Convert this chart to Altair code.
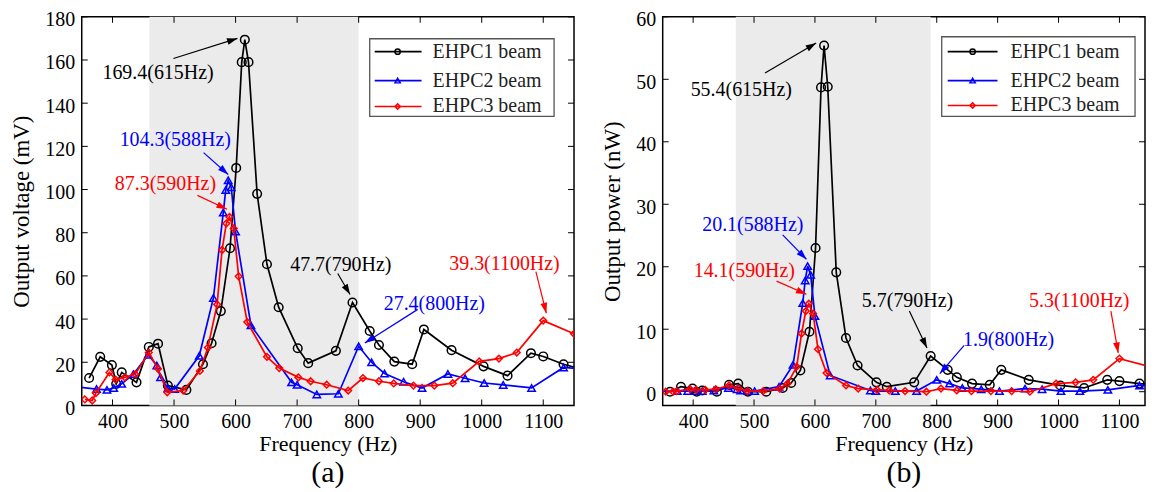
import math
import altair as alt
import pandas as pd

FONT = "Liberation Serif"

series_names = ["EHPC1 beam", "EHPC2 beam", "EHPC3 beam"]
series_colors = ["#000000", "#0000ff", "#ff0000"]
series_shapes = ["circle", "triangle-up", "diamond"]
marker_sizes = [75, 55, 45]

# EHPC1 beam
f1 = [362, 380, 399, 406, 415, 439, 459, 474, 490, 520, 547, 561, 576, 591, 601, 610, 615, 621, 635, 651,
      670, 701, 718, 763, 790, 818, 833, 858, 887, 906, 951, 1003, 1042, 1080, 1100, 1133, 1160]
v1 = [12.7, 22.5, 18.7, 10, 15.3, 10.7, 27.1, 28.6, 9.2, 7.2, 19.1, 28.8, 43.7, 72.8, 110, 159, 169.4, 159, 98, 65.4,
      45.5, 26.5, 19.6, 25.3, 47.7, 34.5, 28, 20.3, 19.1, 35.2, 25.6, 18.1, 13.8, 24.2, 22.7, 19.1, 17]
p1 = [0, 0.8, 0.5, 0, 0.2, 0, 1.1, 1.3, 0, 0, 0.6, 1.4, 3.4, 9.6, 23.0, 48.7, 55.4, 48.8, 19.1, 8.6,
      4.2, 1.5, 0.8, 1.5, 5.7, 3.5, 2.3, 1.3, 1.1, 3.5, 1.9, 1.0, 0.6, 1.9, 1.7, 1.3, 1.1]

# EHPC2 beam
f2 = [340, 374, 391, 402, 415, 434, 458, 472, 478, 490, 501, 541, 564, 580, 584, 588, 593, 600, 625, 691,
      700, 732, 767, 800, 821, 842, 873, 903, 945, 973, 1004, 1035, 1081, 1133, 1160]
v2 = [8.6, 7.6, 7.2, 8.1, 10, 14.5, 23.5, 18.5, 13, 8, 7.6, 23, 49.8, 89.3, 99.8, 104.3, 101, 80.5, 37.1, 10.7,
      9.6, 5.1, 5.4, 27.4, 20, 14.8, 11, 8.1, 14.6, 12.6, 10.4, 9.5, 8.1, 17.6, 17]
p2 = [0.1, 0.1, 0.1, 0.1, 0.1, 0.2, 0.6, 0.4, 0.2, 0.1, 0.1, 0.8, 4.3, 14.2, 17.8, 20.1, 18.7, 12.1, 2.6, 0.2,
      0.1, 0.1, 0.1, 1.9, 1.3, 0.6, 0.4, 0.1, 0.5, 0.4, 0.1, 0.1, 0.3, 1.0, 1.0]

# EHPC3 beam
f3 = [355, 367, 373, 395, 405, 420, 437, 459, 474, 489, 515, 542, 555, 570, 578, 585, 590, 597, 605, 619,
      651, 671, 702, 722, 748, 783, 807, 833, 857, 889, 923, 953, 996, 1028, 1057, 1100, 1150]
v3 = [2.8, 2.3, 5.7, 15.3, 12, 13, 14.5, 24.5, 17, 6.1, 6.9, 16, 26.8, 46.8, 72, 84.3, 87.3, 82, 59.8, 38.6,
      22.5, 17.3, 13, 11.2, 9.6, 6.9, 12.7, 11.2, 10.2, 9.2, 9.2, 10.3, 20.4, 21.7, 24.5, 39.3, 33.2]
p3 = [0, 0, 0.1, 0.4, 0.3, 0.3, 0.4, 1.0, 0.5, 0.1, 0.1, 0.5, 1.3, 4.0, 9.3, 12.9, 14.1, 12.5, 6.8, 3.0,
      1.0, 0.5, 0.3, 0.2, 0.1, 0, 0.5, 0.2, 0.1, 0.1, 0.1, 0, 1.3, 1.5, 1.9, 5.3, 4.0]

x_ticks = [400, 500, 600, 700, 800, 900, 1000, 1100]
voltage_ticks = [0, 20, 40, 60, 80, 100, 120, 140, 160, 180]
power_ticks = [0, 10, 20, 30, 40, 50, 60]

shade_a = [460, 800]
shade_b = [470, 790]

# annotations (a)
ann_a_text = ["169.4(615Hz)", "104.3(588Hz)", "87.3(590Hz)", "47.7(790Hz)", "27.4(800Hz)", "39.3(1100Hz)"]
ann_a_color = ["#000000", "#0000ff", "#ff0000", "#000000", "#0000ff", "#ff0000"]
ann_a_tx = [474, 502, 486, 771, 923, 1037]
ann_a_ty = [153.8, 123, 102.4, 65.2, 46.8, 65.7]
ann_a_x0 = [499, 548, 538, 766, 896, 1088]
ann_a_y0 = [160.7, 117.1, 97.3, 61.1, 44.5, 62]
ann_a_x1 = [603, 588, 586, 786, 810, 1105]
ann_a_y1 = [170, 107, 90.9, 51.4, 28.9, 42.7]

# annotations (b)
ann_b_text = ["55.4(615Hz)", "20.1(588Hz)", "14.1(590Hz)", "5.7(790Hz)", "1.9(800Hz)", "5.3(1100Hz)"]
ann_b_color = ["#000000", "#0000ff", "#ff0000", "#000000", "#0000ff", "#ff0000"]
ann_b_tx = [479, 498, 484, 752, 918, 1034]
ann_b_ty = [48.3, 26.6, 19.3, 14.5, 8.3, 14.5]
ann_b_x0 = [518, 547, 537, 755, 845, 1086]
ann_b_y0 = [51, 25.1, 17.7, 12.9, 7.4, 12.9]
ann_b_x1 = [602, 586, 586, 784, 805, 1098]
ann_b_y1 = [55.8, 21.2, 15.6, 7.0, 2.9, 6.2]

ARROW_PATH = "M0,-1L0.65,1L-0.65,1Z"
ARROW_SIZE = 110


def panel(freqs, vals, xdom, ydom, W, H, yticks, ytitle, shade, ann, legend, caption):
    xs = alt.Scale(domain=xdom, nice=False, zero=False)
    ys = alt.Scale(domain=ydom, nice=False, zero=False)
    xax = alt.Axis(title="Frequency (Hz)", values=x_ticks, format="d", ticks=False, domain=False, grid=False,
                   labelFont=FONT, labelFontSize=20, labelColor="black", labelPadding=6,
                   labelOverlap=False, labelFlush=False,
                   titleFont=FONT, titleFontSize=22, titleFontWeight="normal", titleColor="black",
                   titlePadding=2)
    yax = alt.Axis(title=ytitle, values=yticks, format="d", ticks=False, domain=False, grid=False,
                   labelFont=FONT, labelFontSize=20, labelColor="black", labelPadding=7,
                   labelOverlap=False, labelFlush=False, labelOffset=3,
                   titleFont=FONT, titleFontSize=23, titleFontWeight="normal", titleColor="black",
                   titlePadding=11)
    X = lambda f: alt.X(f, scale=xs, axis=xax)
    Y = lambda f: alt.Y(f, scale=ys, axis=yax)

    layers = []
    # shaded band
    layers.append(alt.Chart(pd.DataFrame({"a": [shade[0]], "b": [shade[1]]})).mark_rect(
        color="#ebebeb").encode(x=X("a:Q"), x2="b:Q", y=alt.value(0), y2=alt.value(H)))
    # inward ticks
    xt = pd.DataFrame({"t": x_ticks})
    yt = pd.DataFrame({"t": yticks})
    layers.append(alt.Chart(xt).mark_rule(color="black", strokeWidth=1).encode(
        x=X("t:Q"), y=alt.value(H), y2=alt.value(H - 6)))
    layers.append(alt.Chart(xt).mark_rule(color="black", strokeWidth=1).encode(
        x=X("t:Q"), y=alt.value(0), y2=alt.value(6)))
    layers.append(alt.Chart(yt).mark_rule(color="black", strokeWidth=1).encode(
        y=Y("t:Q"), x=alt.value(0), x2=alt.value(6)))
    layers.append(alt.Chart(yt).mark_rule(color="black", strokeWidth=1).encode(
        y=Y("t:Q"), x=alt.value(W), x2=alt.value(W - 6)))
    # series
    for i in range(3):
        df = pd.DataFrame({"f": freqs[i], "v": vals[i]})
        layers.append(alt.Chart(df).mark_line(color=series_colors[i], strokeWidth=1.7, clip=True).encode(
            x=X("f:Q"), y=Y("v:Q")))
        layers.append(alt.Chart(df).mark_point(shape=series_shapes[i], filled=False, color=series_colors[i],
                                               size=marker_sizes[i], strokeWidth=1.5, opacity=1,
                                               clip=True).encode(x=X("f:Q"), y=Y("v:Q")))
    # annotations
    text, color, tx, ty, x0, y0, x1, y1 = ann
    sx = W / (xdom[1] - xdom[0])
    sy = H / (ydom[1] - ydom[0])
    hx, hy, ang = [], [], []
    back = math.sqrt(ARROW_SIZE) / 2
    for a0, b0, a1, b1 in zip(x0, y0, x1, y1):
        dxp = (a1 - a0) * sx
        dyp = -(b1 - b0) * sy
        L = math.hypot(dxp, dyp)
        ux, uy = dxp / L, dyp / L
        ang.append(math.degrees(math.atan2(ux, -uy)) % 360)
        hx.append(a1 - ux * back / sx)
        hy.append(b1 + uy * back / sy)
    adf = pd.DataFrame({"text": text, "c": color, "tx": tx, "ty": ty, "x0": x0, "y0": y0,
                        "x1": x1, "y1": y1, "hx": hx, "hy": hy, "ang": ang})
    layers.append(alt.Chart(adf).mark_rule(strokeWidth=1.2).encode(
        x=X("x0:Q"), y=Y("y0:Q"), x2="x1:Q", y2="y1:Q", color=alt.Color("c:N", scale=None)))
    layers.append(alt.Chart(adf).mark_point(shape=ARROW_PATH, filled=True, size=ARROW_SIZE, opacity=1,
                                            strokeWidth=0).encode(
        x=X("hx:Q"), y=Y("hy:Q"), angle=alt.Angle("ang:Q", scale=None),
        color=alt.Color("c:N", scale=None)))
    layers.append(alt.Chart(adf).mark_text(font=FONT, fontSize=20, align="center", baseline="middle").encode(
        x=X("tx:Q"), y=Y("ty:Q"), text="text:N", color=alt.Color("c:N", scale=None)))
    # legend
    bl, br, bt, bb, l0, l1, lm, ltx, rows = legend
    one = pd.DataFrame({"k": [0]})
    layers.append(alt.Chart(one).mark_rect(fill="white", stroke="#555555", strokeWidth=1.3).encode(
        x=alt.value(bl), x2=alt.value(br), y=alt.value(bt), y2=alt.value(bb)))
    for i in range(3):
        layers.append(alt.Chart(one).mark_rule(color=series_colors[i], strokeWidth=1.7).encode(
            x=alt.value(l0), x2=alt.value(l1), y=alt.value(rows[i])))
        layers.append(alt.Chart(one).mark_point(shape=series_shapes[i], filled=False, color=series_colors[i],
                                                size=28, strokeWidth=1.5, opacity=1).encode(
            x=alt.value(lm), y=alt.value(rows[i])))
        layers.append(alt.Chart(one).mark_text(font=FONT, fontSize=20, align="left", baseline="middle",
                                               color="#222222").encode(
            x=alt.value(ltx), y=alt.value(rows[i]), text=alt.value(series_names[i])))

    return alt.layer(*layers).properties(
        width=W, height=H,
        title=alt.TitleParams(caption, orient="bottom", font=FONT, fontSize=30, fontWeight="normal",
                              color="black", offset=4, anchor="middle", frame="group"))


H = 390
left = panel([f1, f2, f3], [v1, v2, v3], [350, 1150], [0, 180], 494, H, voltage_ticks,
             "Output voltage (mV)", shade_a,
             (ann_a_text, ann_a_color, ann_a_tx, ann_a_ty, ann_a_x0, ann_a_y0, ann_a_x1, ann_a_y1),
             (289, 474, 22, 100, 294, 341, 317, 352, [35, 64, 90]), "(a)")
right = panel([f1, f2, f3], [p1, p2, p3], [350, 1142], [-2.2, 60], 484, H, power_ticks,
              "Output power (nW)", shade_b,
              (ann_b_text, ann_b_color, ann_b_tx, ann_b_ty, ann_b_x0, ann_b_y0, ann_b_x1, ann_b_y1),
              (280, 474, 20, 100, 286, 336, 311, 349, [35, 64, 89]), "(b)")

chart = alt.hconcat(left, right, spacing=25).properties(
    padding={"left": 2, "top": 0, "right": 0, "bottom": 0}
).configure_view(stroke="black", strokeWidth=1.5)

chart.save("out.html", embed_options={"renderer": "svg", "actions": False})
